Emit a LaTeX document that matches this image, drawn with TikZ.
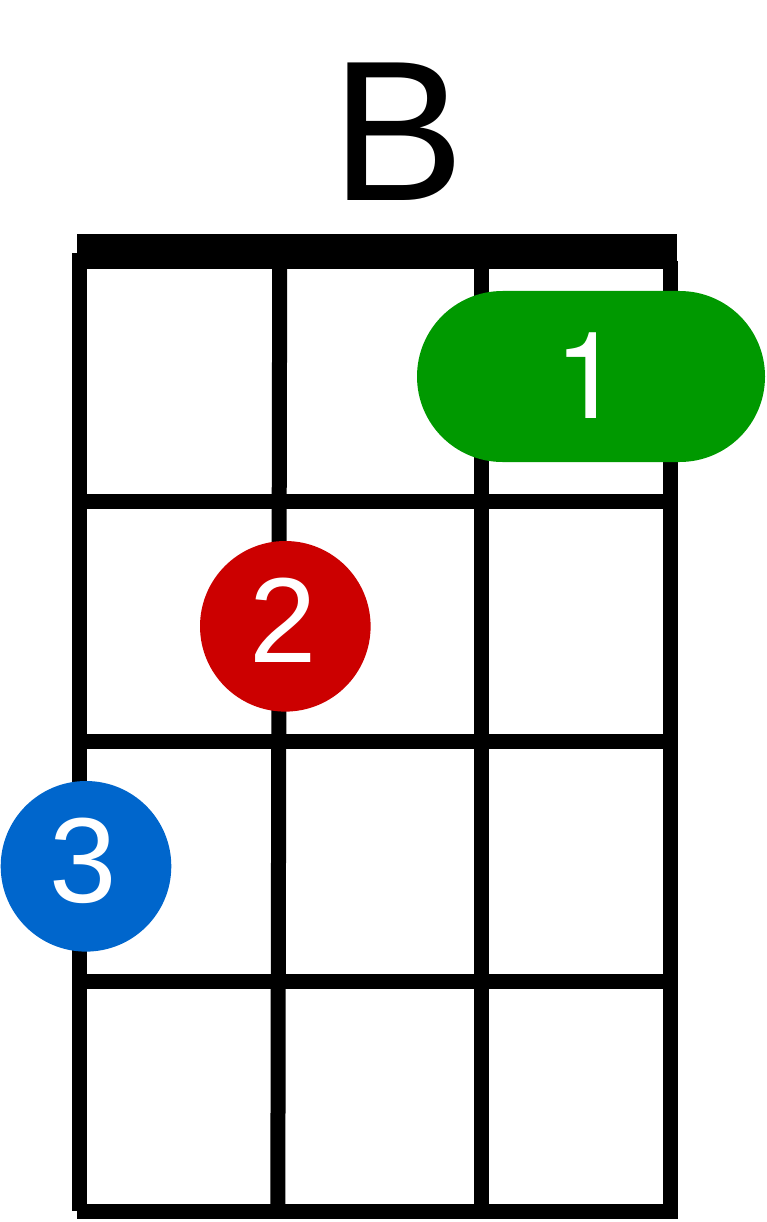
\documentclass[tikz,border=0pt]{standalone}
\usepackage{fontspec}
\setmainfont{Liberation Sans}
\newfontfamily\heros{TeX Gyre Heros}
\definecolor{fgreen}{RGB}{0,153,0}
\definecolor{fred}{RGB}{204,0,0}
\definecolor{fblue}{RGB}{0,102,204}
\begin{document}
\begin{tikzpicture}[x=1pt,y=-1pt,
  gridline/.style={line width=15pt,draw=black},
  fingerdot/.style={circle,minimum size=170.6pt,inner sep=0pt},
  digit/.style={text=white,anchor=base,inner sep=0pt,font=\fontsize{121}{130}\selectfont}]
\useasboundingbox (0,0) rectangle (766,1222);
% title
\node[anchor=base,inner sep=0pt,font=\fontsize{200}{220}\selectfont] (title) at (398,201) {B};
% strings
\coordinate (s1t) at (79.7,253); \coordinate (s1b) at (79.7,1211);
\coordinate (s2t) at (279.7,260); \coordinate (s2b) at (277.8,1211);
\coordinate (s3t) at (481.5,260); \coordinate (s3b) at (481.5,1211);
\coordinate (s4t) at (670.5,261); \coordinate (s4b) at (670.5,1211);
\draw[gridline] (s1t) -- (s1b);
\draw[gridline] (s2t) -- (s2b);
\draw[gridline] (s3t) -- (s3b);
\draw[gridline] (s4t) -- (s4b);
% frets
\draw[gridline] (79.7,501.5) -- (670.5,501.5);
\draw[gridline] (79.7,741.5) -- (670.5,741.5);
\draw[gridline] (79.7,981.5) -- (670.5,981.5);
\fill[black] (76.7,1204) rectangle (678,1219);
% nut
\fill[black] (76.7,234) rectangle (676.7,269);
% finger 1 (barre)
\fill[fgreen,rounded corners=85.5pt] (417,291) rectangle (765,462);
\node[digit,font=\heros\fontsize{121}{130}\selectfont] (f1) at (588,418.3) {1};
% finger 2
\node[fingerdot,fill=fred] (d2) at (285.3,626.3) {};
\node[digit] (f2) at (283,662.7) {2};
% finger 3
\node[fingerdot,fill=fblue] (d3) at (86,866.3) {};
\node[digit] (f3) at (83,902.7) {3};
\end{tikzpicture}
\end{document}
